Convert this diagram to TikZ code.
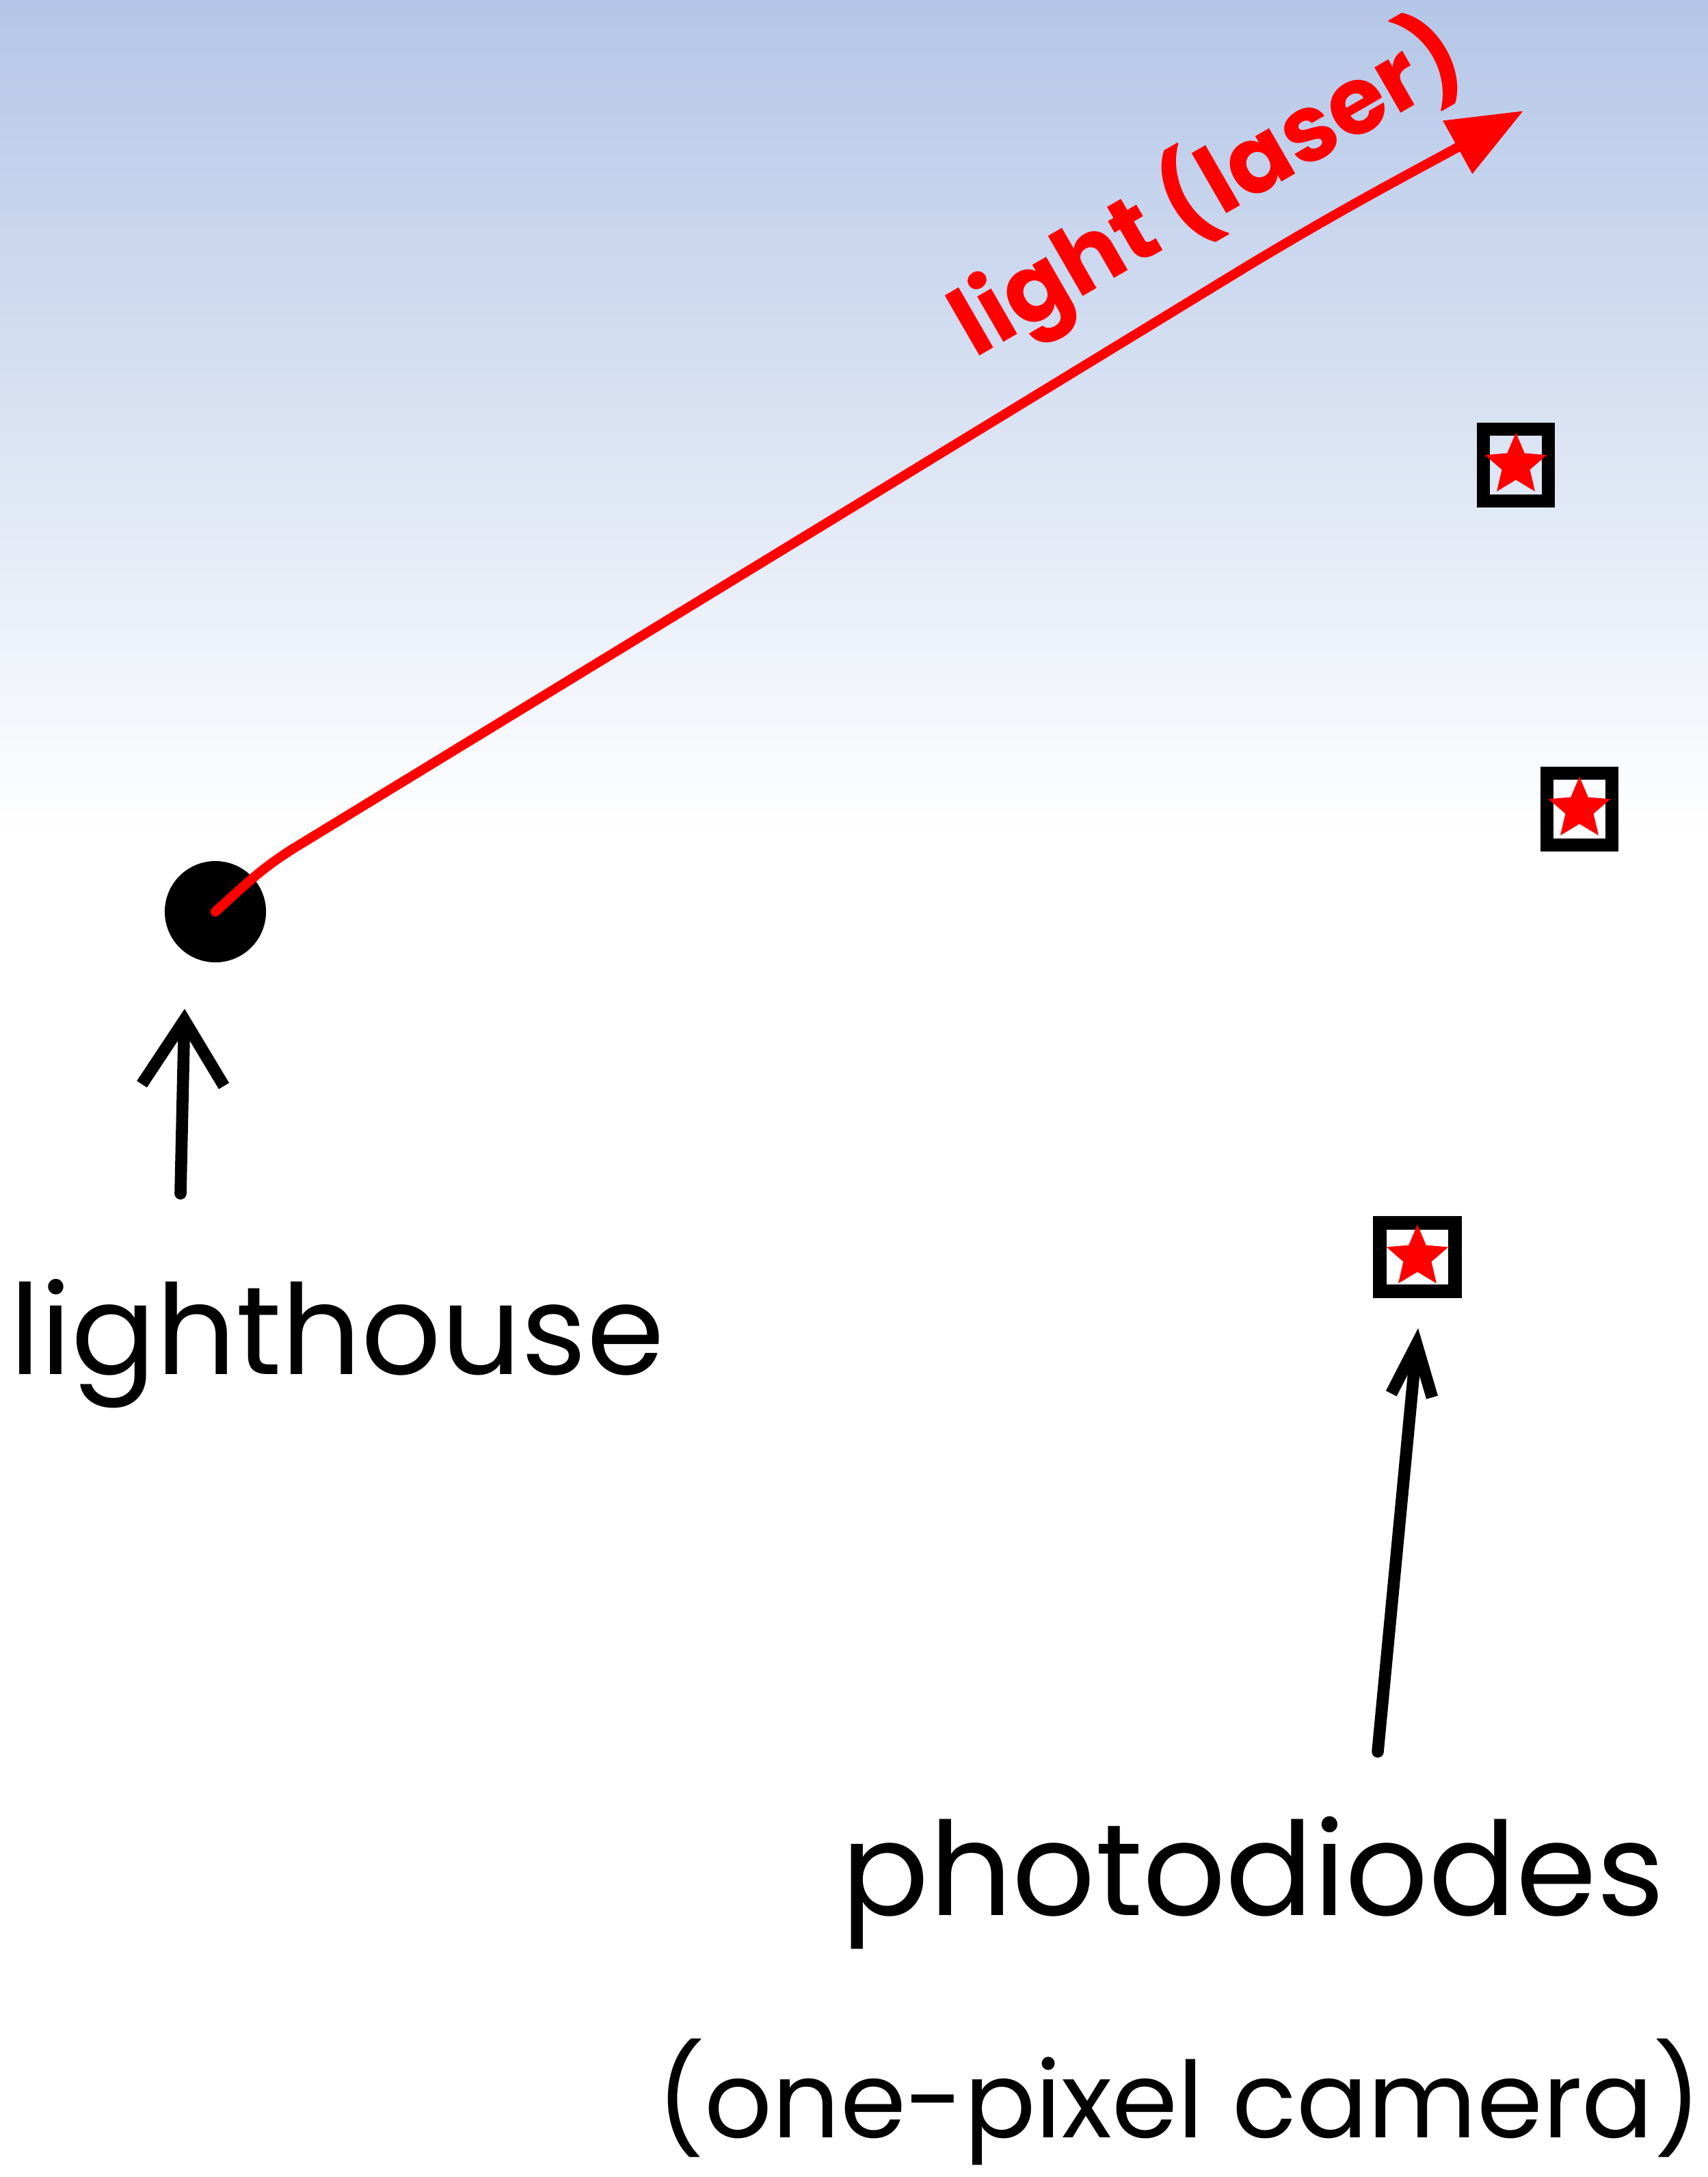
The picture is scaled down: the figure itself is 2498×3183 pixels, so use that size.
\documentclass[tikz,border=0pt]{standalone}
\usepackage{fontspec}
\setmainfont{Poppins}
\usetikzlibrary{arrows.meta,shapes.geometric}

\begin{document}
\begin{tikzpicture}[
  x=0.01cm, y=-0.01cm,
  beam/.style={draw=red, line width=4pt, line cap=round,
    -{Triangle[length=1.1cm,width=0.85cm]}},
  pointer/.style={draw, line width=5pt, line cap=round},
  diode/.style={draw, line width=5.5pt, minimum width=0.95cm,
    minimum height=1.05cm, inner sep=0pt},
  hit/.style={star, star points=5, star point ratio=2.2, fill=red,
    minimum size=0.95cm, inner sep=0pt},
  hand/.style={inner sep=0pt},
]
\useasboundingbox (0,0) rectangle (2498,3183);
% sky
\fill[white] (0,0) rectangle (2498,3183);
\shade[top color={rgb,255:red,180;green,198;blue,231}, bottom color=white]
  (0,0) rectangle (2498,1220);

% lighthouse
\node[circle, fill=black, minimum size=1.48cm, inner sep=0pt] (beacon) at (315,1333) {};
\coordinate (beamend) at (2228,162);
\draw[beam] (beacon.center) to[out=42,in=212] (430,1240) -- (1826,388)
  to[out=31,in=209] (beamend);
\node[hand, text=red, rotate=30, anchor=base west,
  font=\bfseries\fontsize{39}{44}\selectfont] (beamtext) at (1425,525) {light (laser)};

% photodiodes
\node[diode] (d1) at (2217,680) {};
\node[diode] (d2) at (2310,1183) {};
\node[diode, minimum width=1.1cm, minimum height=1.0cm] (d3) at (2073,1838) {};
\node[hit] at (d1) {};
\node[hit] at (d2) {};
\node[hit] at (d3) {};

% labels
\coordinate (lhfoot) at (264,1745);
\draw[pointer, -{Straight Barb[length=0.95cm,width=1.2cm]}] (lhfoot) -- (270,1475);
\node[hand, anchor=base west, font=\fontsize{52}{56}\selectfont] (lhtext) at (14,2009) {lighthouse};

\coordinate (pdfoot) at (2015,2561);
\draw[pointer, -{Straight Barb[length=0.75cm,width=0.6cm]}] (pdfoot) -- (2074,1942);
\node[hand, anchor=base west, font=\fontsize{54}{58}\selectfont] (pdtext) at (1230,2800) {photodiodes};
\node[hand, anchor=base west, font=\fontsize{44}{48}\selectfont] (camtext) at (960,3125) {(one-pixel camera)};
\end{tikzpicture}
\end{document}
